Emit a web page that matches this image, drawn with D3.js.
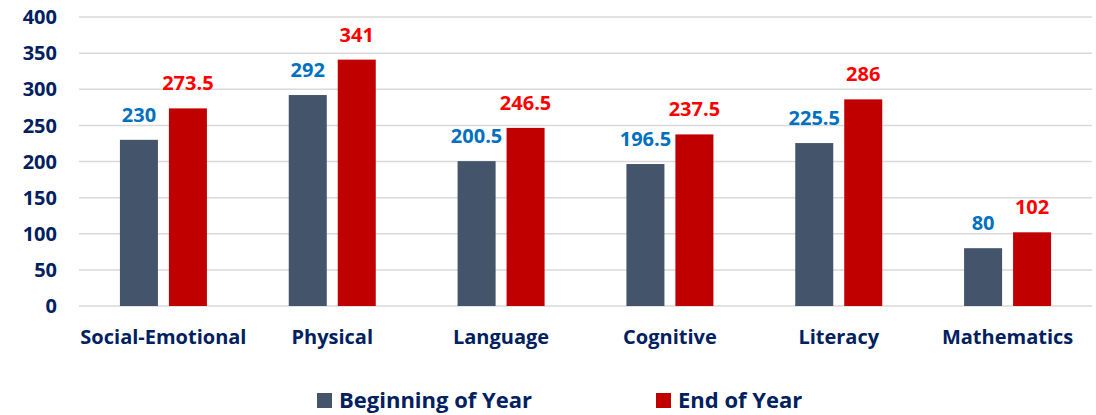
<!DOCTYPE html>
<html>
<head>
<meta charset="utf-8">
<script src="https://cdn.jsdelivr.net/npm/d3@7"></script>
<style>
  html, body { margin: 0; padding: 0; background: #fff; }
  svg { display: block; font-family: "Open Sans", Lato, sans-serif; font-weight: bold; }
</style>
</head>
<body>
<svg id="chart"></svg>
<script>
// chart values
const categories = ["Social-Emotional", "Physical", "Language", "Cognitive", "Literacy", "Mathematics"];
const seriesNames = ["Beginning of Year", "End of Year"];
const beginningValues = [230, 292, 200.5, 196.5, 225.5, 80];
const endValues = [273.5, 341, 246.5, 237.5, 286, 102];
const yTicks = [0, 50, 100, 150, 200, 250, 300, 350, 400];

const width = 1096, height = 415;
const margin = { top: 17, right: 4, bottom: 109, left: 79 };
const plotWidth = width - margin.left - margin.right;
const plotHeight = height - margin.top - margin.bottom;

const barColors = ["#44546A", "#C00000"];
const labelColors = ["#0070C0", "#FF0000"];
const textColor = "#002060";

const svg = d3.select("#chart").attr("width", width).attr("height", height);
const plotArea = svg.append("g")
  .attr("transform", `translate(${margin.left}, ${margin.top})`);

const xAxis = d3.scaleBand()
  .domain(categories)
  .range([0, plotWidth]);

// two bars per category, 38px wide with an 11px gap
const xInner = d3.scaleBand()
  .domain(seriesNames)
  .range([0, 87])
  .paddingInner(0.224);

const yAxis = d3.scaleLinear()
  .domain([0, 400])
  .range([plotHeight, 0]);

// gridlines
plotArea.append("g")
  .attr("class", "grid")
  .selectAll("line")
  .data(yTicks)
  .enter()
  .append("line")
  .attr("x1", 0)
  .attr("x2", plotWidth)
  .attr("y1", d => yAxis(d))
  .attr("y2", d => yAxis(d))
  .attr("stroke", "#d9d9d9")
  .attr("stroke-width", 1.5);

// y tick labels
plotArea.append("g")
  .attr("class", "axis y")
  .selectAll("text")
  .data(yTicks)
  .enter()
  .append("text")
  .attr("x", -22)
  .attr("y", d => yAxis(d))
  .attr("dy", "0.36em")
  .attr("text-anchor", "end")
  .attr("fill", textColor)
  .attr("font-size", 20)
  .text(d => d);

// x category labels
plotArea.append("g")
  .attr("class", "axis x")
  .selectAll("text")
  .data(categories)
  .enter()
  .append("text")
  .attr("x", d => xAxis(d) + xAxis.bandwidth() / 2)
  .attr("y", plotHeight + 38)
  .attr("text-anchor", "middle")
  .attr("fill", textColor)
  .attr("font-size", 20)
  .text(d => d);

const rows = categories.map((c, i) => ({
  category: c,
  values: [
    { series: seriesNames[0], value: beginningValues[i], idx: 0 },
    { series: seriesNames[1], value: endValues[i], idx: 1 }
  ]
}));

const groups = plotArea.selectAll(".cat")
  .data(rows)
  .enter()
  .append("g")
  .attr("class", "cat")
  .attr("transform", d => `translate(${xAxis(d.category) + xAxis.bandwidth() / 2 - 43.5}, 0)`);

groups.selectAll("rect")
  .data(d => d.values)
  .enter()
  .append("rect")
  .attr("x", d => xInner(d.series))
  .attr("y", d => yAxis(d.value))
  .attr("width", xInner.bandwidth())
  .attr("height", d => plotHeight - yAxis(d.value))
  .attr("fill", d => barColors[d.idx]);

groups.selectAll("text")
  .data(d => d.values)
  .enter()
  .append("text")
  .attr("x", d => xInner(d.series) + xInner.bandwidth() / 2)
  .attr("y", d => yAxis(d.value) - 18)
  .attr("text-anchor", "middle")
  .attr("fill", d => labelColors[d.idx])
  .attr("font-size", 20)
  .text(d => d.value);

// legend
const legendX = [317, 656];
const legend = svg.append("g").attr("class", "legend")
  .selectAll("g")
  .data(seriesNames)
  .enter()
  .append("g")
  .attr("transform", (d, i) => `translate(${legendX[i]}, 393)`);

legend.append("rect")
  .attr("width", 15)
  .attr("height", 15)
  .attr("fill", (d, i) => barColors[i]);

legend.append("text")
  .attr("x", 22)
  .attr("y", 15)
  .attr("fill", textColor)
  .attr("font-size", 22)
  .text(d => d);
</script>
</body>
</html>
